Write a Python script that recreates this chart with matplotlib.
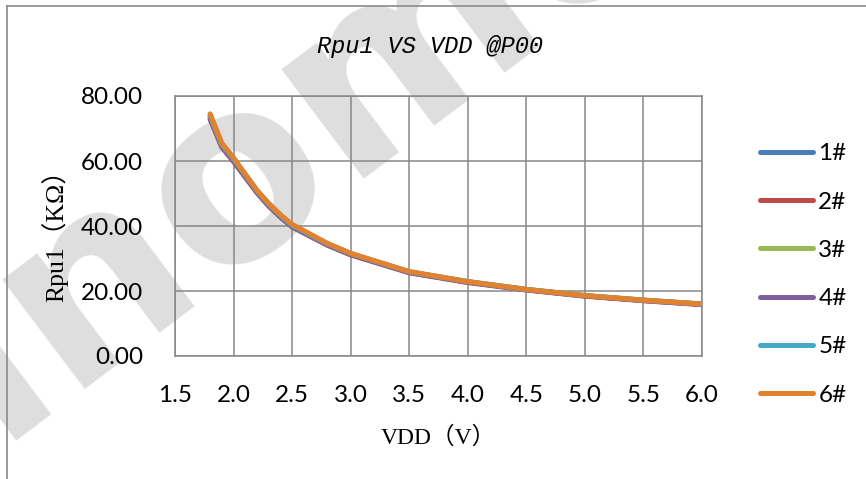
import matplotlib
matplotlib.use("Agg")
import matplotlib.pyplot as plt
from matplotlib.lines import Line2D
from matplotlib.ticker import FormatStrFormatter, MultipleLocator

# ---- data ----
vdd = [1.8, 1.9, 2.0, 2.2, 2.3, 2.4, 2.5, 2.8, 3.0, 3.5, 4.0, 4.5, 5.0, 5.5, 6.0]
r1 = [73.6, 64.8, 60.3, 50.6, 46.5, 43.0, 40.0, 34.3, 31.3, 25.8, 22.8, 20.4, 18.5, 17.1, 15.9]
r2 = [72.8, 64.2, 59.8, 50.2, 46.1, 42.7, 39.7, 34.1, 31.1, 25.6, 22.6, 20.3, 18.4, 17.0, 15.8]
r3 = [74.2, 65.2, 60.7, 50.9, 46.8, 43.3, 40.3, 34.6, 31.5, 25.9, 22.9, 20.5, 18.6, 17.2, 16.0]
r4 = [73.2, 64.5, 60.0, 50.4, 46.3, 42.8, 39.8, 34.2, 31.2, 25.7, 22.7, 20.4, 18.5, 17.1, 15.9]
r5 = [74.0, 65.0, 60.6, 50.8, 46.7, 43.2, 40.2, 34.5, 31.5, 25.9, 22.9, 20.5, 18.6, 17.2, 16.0]
r6 = [74.5, 65.5, 61.0, 51.0, 47.0, 43.5, 40.5, 34.7, 31.6, 26.0, 22.9, 20.5, 18.6, 17.2, 16.0]
series = [r1, r2, r3, r4, r5, r6]
labels = ["1#", "2#", "3#", "4#", "5#", "6#"]
colors = ["#4A7EBB", "#BE4B48", "#98B954", "#7D60A0", "#46AAC5", "#E2822F"]

title = "Rpu1 VS VDD @P00"
ylabel = "Rpu1\uff08K\u03a9\uff09"
xlabel = "VDD\uff08V\uff09"
watermark = "sinomcu"

W, H = 866, 479
fig = plt.figure(figsize=(W / 100, H / 100), dpi=100)
fig.patch.set_facecolor("white")

def fx(px):
    return px / W

def fy(py):
    return 1 - py / H

# watermark (clipped at the picture edges, as in the reference)
fig.text(fx(-121), fy(535), watermark, fontsize=180, fontweight="bold",
         family="DejaVu Sans", color="#dedede", rotation=37,
         rotation_mode="anchor", ha="left", va="baseline", zorder=-5)

# outer frame
fig.add_artist(Line2D([fx(7), fx(7)], [fy(6), 0], transform=fig.transFigure,
                      color="#8a8a8a", lw=1.2))
fig.add_artist(Line2D([fx(7), 1], [fy(6), fy(6)], transform=fig.transFigure,
                      color="#8a8a8a", lw=1.2))

ax = fig.add_axes([fx(175), fy(356), fx(702) - fx(175), fy(96) - fy(356)])
ax.set_facecolor("none")

for ys, lab, c in zip(series, labels, colors):
    ax.plot(vdd, ys, color=c, lw=3.6, label=lab, solid_capstyle="round",
            solid_joinstyle="round", zorder=3)

ax.set_xlim(1.5, 6.0)
ax.set_ylim(0, 80)
ax.xaxis.set_major_locator(MultipleLocator(0.5))
ax.yaxis.set_major_locator(MultipleLocator(20))
ax.xaxis.set_major_formatter(FormatStrFormatter("%.1f"))
ax.yaxis.set_major_formatter(FormatStrFormatter("%.2f"))
ax.grid(True, color="#878787", lw=1.1, zorder=1)
ax.set_axisbelow(True)
for s in ax.spines.values():
    s.set_color("#878787")
    s.set_linewidth(1.1)
ax.tick_params(length=0, labelsize=17.5, colors="black")
ax.tick_params(axis="y", pad=23)
ax.tick_params(axis="x", pad=21)
for t in ax.get_xticklabels() + ax.get_yticklabels():
    t.set_family("Lato")

fig.text(fx(430), fy(47), title, fontsize=17, style="italic",
         family="Liberation Mono", ha="center", va="center")
ax.set_ylabel(ylabel, family=["Liberation Serif", "Noto Sans CJK SC"],
              fontsize=18.5)
ax.yaxis.set_label_coords((55 - 175) / (702 - 175), (356 - 230) / 260)
ax.set_xlabel(xlabel, family=["Liberation Serif", "Noto Sans CJK SC"],
              fontsize=17)
ax.xaxis.set_label_coords((438 - 175) / (702 - 175), (356 - 437) / 260)
ax.xaxis.label.set_va("center")
ax.yaxis.label.set_va("center")

leg = ax.legend(loc="center left", bbox_to_anchor=(fx(760), fy(274.5)),
                bbox_transform=fig.transFigure, frameon=False,
                prop={"family": "Lato", "size": 17.5}, handlelength=2.2,
                handletextpad=0.2, labelspacing=1.12, borderpad=0,
                borderaxespad=0)
for h in leg.get_lines():
    h.set_solid_capstyle("round")
    h.set_linewidth(3.6)

fig.savefig("out.png", dpi=100)
